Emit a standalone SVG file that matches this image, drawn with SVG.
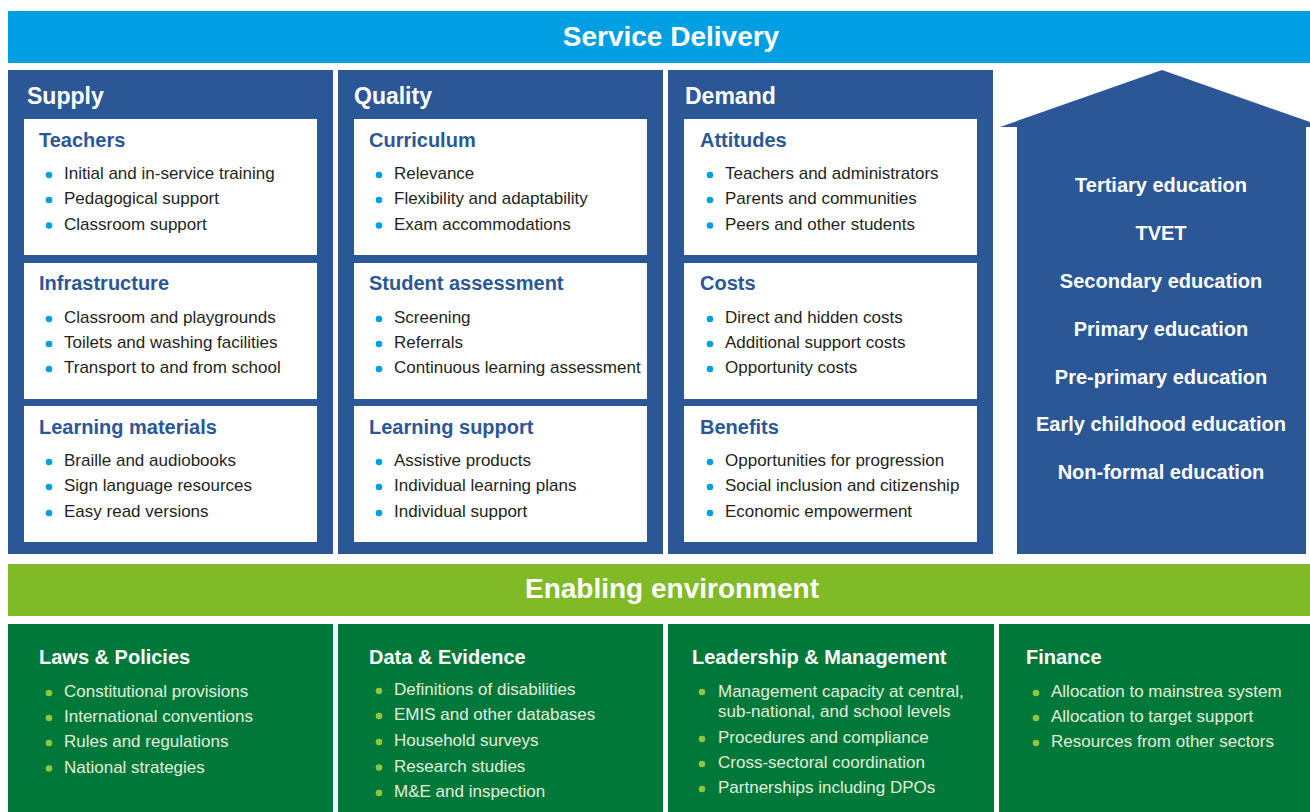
<svg xmlns="http://www.w3.org/2000/svg" width="1310" height="812" viewBox="0 0 1310 812">
<style>
text{font-family:"Liberation Sans",Arial,sans-serif}
.banner{fill:#fff;font-weight:bold;font-size:28px;text-anchor:middle}
.col{fill:#2B5797}
.box{fill:#fff}
.ch{fill:#fff;font-weight:bold;font-size:23px}
.bh{fill:#2B5797;font-weight:bold;font-size:20px}
.bt{fill:#231f20;font-size:17px}
.bd{fill:#009FE3}
.gcol{fill:#00783A}
.gh{fill:#fff;font-weight:bold;font-size:20px}
.gt{fill:#E2EEDC;font-size:17px}
.gd{fill:#8DC63F}
.at{fill:#fff;font-weight:bold;font-size:20px;text-anchor:middle}
</style>
<rect width="1310" height="812" fill="#fff"/>
<g id="service-delivery">
<rect x="8" y="11" width="1302" height="52" fill="#009FE3"/>
<text class="banner" x="671" y="46">Service Delivery</text>
</g>
<g id="supply">
<rect class="col" x="8" y="70" width="325" height="484"/>
<text class="ch" x="27" y="104">Supply</text>
<rect class="box" x="24" y="119" width="293" height="136"/>
<text class="bh" x="39" y="147">Teachers</text>
<circle class="bd" cx="49" cy="175" r="3.3"/><text class="bt" x="64" y="179">Initial and in-service training</text>
<circle class="bd" cx="49" cy="200" r="3.3"/><text class="bt" x="64" y="204">Pedagogical support</text>
<circle class="bd" cx="49" cy="225.5" r="3.3"/><text class="bt" x="64" y="229.5">Classroom support</text>
<rect class="box" x="24" y="263" width="293" height="136"/>
<text class="bh" x="39" y="290">Infrastructure</text>
<circle class="bd" cx="49" cy="319" r="3.3"/><text class="bt" x="64" y="323">Classroom and playgrounds</text>
<circle class="bd" cx="49" cy="344" r="3.3"/><text class="bt" x="64" y="348">Toilets and washing facilities</text>
<circle class="bd" cx="49" cy="369" r="3.3"/><text class="bt" x="64" y="373">Transport to and from school</text>
<rect class="box" x="24" y="406" width="293" height="136"/>
<text class="bh" x="39" y="434">Learning materials</text>
<circle class="bd" cx="49" cy="462" r="3.3"/><text class="bt" x="64" y="466">Braille and audiobooks</text>
<circle class="bd" cx="49" cy="487" r="3.3"/><text class="bt" x="64" y="491">Sign language resources</text>
<circle class="bd" cx="49" cy="513" r="3.3"/><text class="bt" x="64" y="517">Easy read versions</text>
</g>
<g id="quality">
<rect class="col" x="338" y="70" width="325" height="484"/>
<text class="ch" x="354" y="104">Quality</text>
<rect class="box" x="354" y="119" width="293" height="136"/>
<text class="bh" x="369" y="147">Curriculum</text>
<circle class="bd" cx="379" cy="175" r="3.3"/><text class="bt" x="394" y="179">Relevance</text>
<circle class="bd" cx="379" cy="200" r="3.3"/><text class="bt" x="394" y="204">Flexibility and adaptability</text>
<circle class="bd" cx="379" cy="225.5" r="3.3"/><text class="bt" x="394" y="229.5">Exam accommodations</text>
<rect class="box" x="354" y="263" width="293" height="136"/>
<text class="bh" x="369" y="290">Student assessment</text>
<circle class="bd" cx="379" cy="319" r="3.3"/><text class="bt" x="394" y="323">Screening</text>
<circle class="bd" cx="379" cy="344" r="3.3"/><text class="bt" x="394" y="348">Referrals</text>
<circle class="bd" cx="379" cy="369" r="3.3"/><text class="bt" x="394" y="373">Continuous learning assessment</text>
<rect class="box" x="354" y="406" width="293" height="136"/>
<text class="bh" x="369" y="434">Learning support</text>
<circle class="bd" cx="379" cy="462" r="3.3"/><text class="bt" x="394" y="466">Assistive products</text>
<circle class="bd" cx="379" cy="487" r="3.3"/><text class="bt" x="394" y="491">Individual learning plans</text>
<circle class="bd" cx="379" cy="513" r="3.3"/><text class="bt" x="394" y="517">Individual support</text>
</g>
<g id="demand">
<rect class="col" x="668" y="70" width="325" height="484"/>
<text class="ch" x="685" y="104">Demand</text>
<rect class="box" x="684" y="119" width="293" height="136"/>
<text class="bh" x="700" y="147">Attitudes</text>
<circle class="bd" cx="710" cy="175" r="3.3"/><text class="bt" x="725" y="179">Teachers and administrators</text>
<circle class="bd" cx="710" cy="200" r="3.3"/><text class="bt" x="725" y="204">Parents and communities</text>
<circle class="bd" cx="710" cy="225.5" r="3.3"/><text class="bt" x="725" y="229.5">Peers and other students</text>
<rect class="box" x="684" y="263" width="293" height="136"/>
<text class="bh" x="700" y="290">Costs</text>
<circle class="bd" cx="710" cy="319" r="3.3"/><text class="bt" x="725" y="323">Direct and hidden costs</text>
<circle class="bd" cx="710" cy="344" r="3.3"/><text class="bt" x="725" y="348">Additional support costs</text>
<circle class="bd" cx="710" cy="369" r="3.3"/><text class="bt" x="725" y="373">Opportunity costs</text>
<rect class="box" x="684" y="406" width="293" height="136"/>
<text class="bh" x="700" y="434">Benefits</text>
<circle class="bd" cx="710" cy="462" r="3.3"/><text class="bt" x="725" y="466">Opportunities for progression</text>
<circle class="bd" cx="710" cy="487" r="3.3"/><text class="bt" x="725" y="491">Social inclusion and citizenship</text>
<circle class="bd" cx="710" cy="513" r="3.3"/><text class="bt" x="725" y="517">Economic empowerment</text>
</g>
<g id="levels-arrow">
<polygon class="col" points="1017,554 1017,127 1000,127 1162,70 1324,127 1306,127 1306,554"/>
<text class="at" x="1161" y="192">Tertiary education</text>
<text class="at" x="1161" y="240">TVET</text>
<text class="at" x="1161" y="288">Secondary education</text>
<text class="at" x="1161" y="336">Primary education</text>
<text class="at" x="1161" y="384">Pre-primary education</text>
<text class="at" x="1161" y="431">Early childhood education</text>
<text class="at" x="1161" y="479">Non-formal education</text>
</g>
<g id="enabling-environment">
<rect x="8" y="564" width="1302" height="52" fill="#80BB27"/>
<text class="banner" x="672" y="598">Enabling environment</text>
</g>
<g id="laws-policies">
<rect class="gcol" x="8" y="624" width="325" height="188"/>
<text class="gh" x="39" y="664">Laws &amp; Policies</text>
<circle class="gd" cx="49" cy="693" r="3.3"/><text class="gt" x="64" y="697">Constitutional provisions</text>
<circle class="gd" cx="49" cy="718" r="3.3"/><text class="gt" x="64" y="722">International conventions</text>
<circle class="gd" cx="49" cy="743" r="3.3"/><text class="gt" x="64" y="747">Rules and regulations</text>
<circle class="gd" cx="49" cy="768.5" r="3.3"/><text class="gt" x="64" y="772.5">National strategies</text>
</g>
<g id="data-evidence">
<rect class="gcol" x="338" y="624" width="325" height="188"/>
<text class="gh" x="369" y="664">Data &amp; Evidence</text>
<circle class="gd" cx="379" cy="691" r="3.3"/><text class="gt" x="394" y="695">Definitions of disabilities</text>
<circle class="gd" cx="379" cy="716" r="3.3"/><text class="gt" x="394" y="720">EMIS and other databases</text>
<circle class="gd" cx="379" cy="742" r="3.3"/><text class="gt" x="394" y="746">Household surveys</text>
<circle class="gd" cx="379" cy="767.5" r="3.3"/><text class="gt" x="394" y="771.5">Research studies</text>
<circle class="gd" cx="379" cy="793" r="3.3"/><text class="gt" x="394" y="797">M&amp;E and inspection</text>
</g>
<g id="leadership-management">
<rect class="gcol" x="668" y="624" width="326" height="188"/>
<text class="gh" x="692" y="664">Leadership &amp; Management</text>
<circle class="gd" cx="702" cy="692" r="3.3"/><text class="gt" x="718" y="697">Management capacity at central,</text>
<text class="gt" x="718" y="717">sub-national, and school levels</text>
<circle class="gd" cx="702" cy="739" r="3.3"/><text class="gt" x="718" y="743">Procedures and compliance</text>
<circle class="gd" cx="702" cy="764" r="3.3"/><text class="gt" x="718" y="768">Cross-sectoral coordination</text>
<circle class="gd" cx="702" cy="789" r="3.3"/><text class="gt" x="718" y="793">Partnerships including DPOs</text>
</g>
<g id="finance">
<rect class="gcol" x="999" y="624" width="311" height="188"/>
<text class="gh" x="1026" y="664">Finance</text>
<circle class="gd" cx="1036" cy="693" r="3.3"/><text class="gt" x="1051" y="697">Allocation to mainstrea system</text>
<circle class="gd" cx="1036" cy="718" r="3.3"/><text class="gt" x="1051" y="722">Allocation to target support</text>
<circle class="gd" cx="1036" cy="743" r="3.3"/><text class="gt" x="1051" y="747">Resources from other sectors</text>
</g>
<g id="connectors"/>
</svg>
